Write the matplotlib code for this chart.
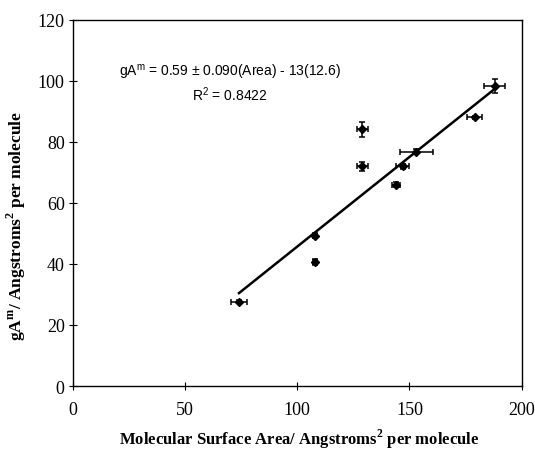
import numpy as np
import matplotlib
matplotlib.use("Agg")
import matplotlib.pyplot as plt

plt.rcParams['mathtext.fontset'] = 'custom'
plt.rcParams['mathtext.rm'] = 'Liberation Serif'
plt.rcParams['mathtext.bf'] = 'Liberation Serif:bold'
plt.rcParams['mathtext.sf'] = 'Liberation Sans'

# data
area = [74, 108, 108, 129, 129, 144, 147, 153, 179, 188]
gam = [27.6, 40.5, 49.3, 84.1, 72.0, 65.9, 72.0, 76.8, 88.0, 98.3]
area_err = [3.4, 1.0, 1.0, 2.5, 2.5, 1.8, 3.0, 7.3, 3.4, 4.6]
gam_err = [0.5, 1.0, 0.8, 2.4, 1.5, 0.8, 0.8, 0.8, 0.5, 2.3]
slope = 0.587
intercept = -13.0

fig = plt.figure(figsize=(5.35, 4.52), dpi=100)
ax = fig.add_axes([0.1364, 0.1438, 0.975 - 0.1364, 0.954 - 0.1438])

ax.errorbar(area, gam, xerr=area_err, yerr=gam_err, fmt='D', color='black',
            ms=4.5, elinewidth=1.1, capsize=2.2, capthick=1.1, zorder=3)

xf = np.array([min(area), max(area)])
ax.plot(xf, slope * xf + intercept, color='black', lw=1.8)

ax.text(0.35, 0.86, r'gA$^{\mathsf{m}}$ = 0.59 ± 0.090(Area) - 13(12.6)',
        transform=ax.transAxes, ha='center', va='center',
        family='Liberation Sans', fontsize=10)
ax.text(0.35, 0.797, r'R$^{\mathsf{2}}$ = 0.8422', transform=ax.transAxes,
        ha='center', va='center', family='Liberation Sans', fontsize=10)

ax.set_xlim(0, 200)
ax.set_ylim(0, 120)
ax.set_xticks([0, 50, 100, 150, 200])
ax.set_yticks([0, 20, 40, 60, 80, 100, 120])
ax.tick_params(direction='inout', length=6, width=0.8, labelsize=13)
ax.tick_params(axis='x', pad=8)
ax.tick_params(axis='y', pad=3)
for lab in ax.get_xticklabels() + ax.get_yticklabels():
    lab.set_family('Liberation Serif')
for s in ax.spines.values():
    s.set_linewidth(1.0)

ax.set_xlabel(r'Molecular Surface Area/ Angstroms$^{\mathbf{2}}$ per molecule',
              family='Liberation Serif', fontweight='bold', fontsize=12)
ax.xaxis.set_label_coords(0.505, -0.112)
ax.set_ylabel(r'gA$^{\mathbf{m}}$/ Angstroms$^{\mathbf{2}}$ per molecule',
              family='Liberation Serif', fontweight='bold', fontsize=12.5)
ax.yaxis.set_label_coords(-0.1, 0.44)

fig.savefig('out.png', dpi=100)
